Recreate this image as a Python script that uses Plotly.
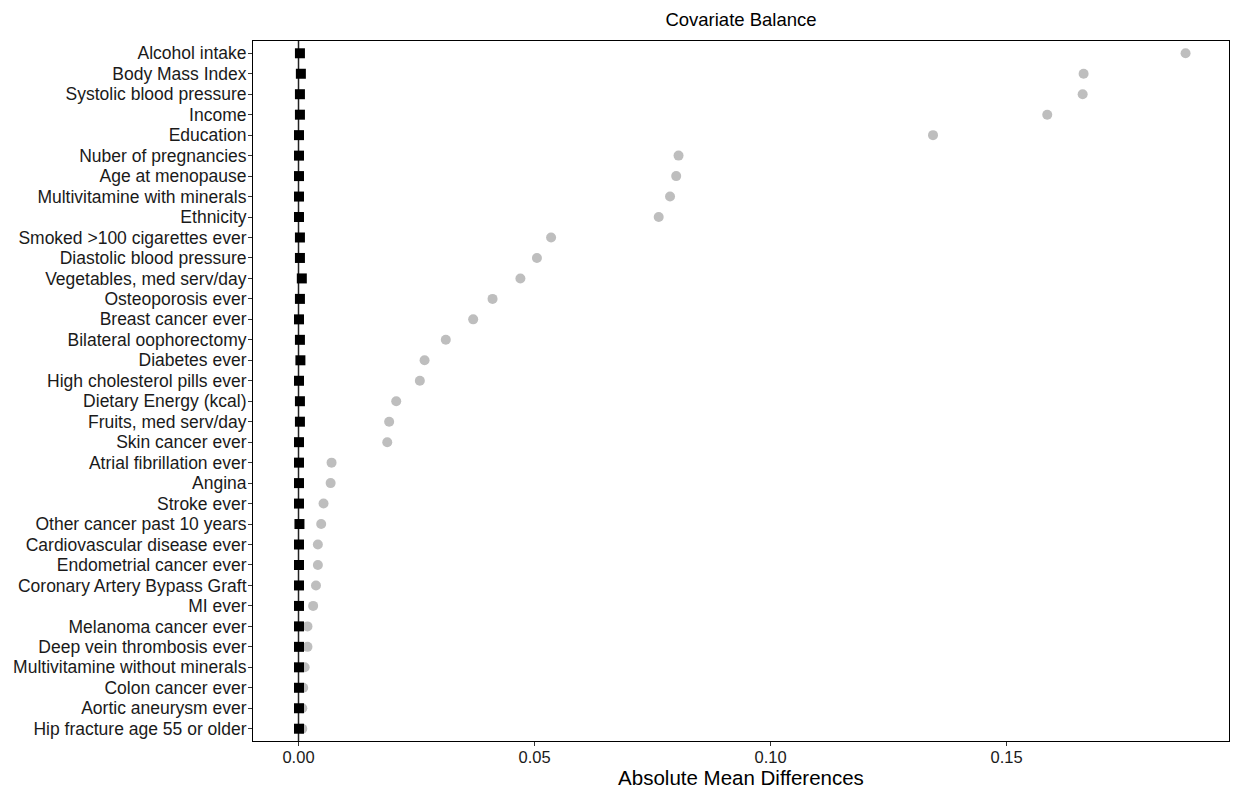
import plotly.graph_objects as go

covariates = [
    "Alcohol intake", "Body Mass Index", "Systolic blood pressure", "Income",
    "Education", "Nuber of pregnancies", "Age at menopause",
    "Multivitamine with minerals", "Ethnicity", "Smoked >100 cigarettes ever",
    "Diastolic blood pressure", "Vegetables, med serv/day", "Osteoporosis ever",
    "Breast cancer ever", "Bilateral oophorectomy", "Diabetes ever",
    "High cholesterol pills ever", "Dietary Energy (kcal)", "Fruits, med serv/day",
    "Skin cancer ever", "Atrial fibrillation ever", "Angina", "Stroke ever",
    "Other cancer past 10 years", "Cardiovascular disease ever",
    "Endometrial cancer ever", "Coronary Artery Bypass Graft", "MI ever",
    "Melanoma cancer ever", "Deep vein thrombosis ever",
    "Multivitamine without minerals", "Colon cancer ever", "Aortic aneurysm ever",
    "Hip fracture age 55 or older",
]

unadjusted = [
    0.1879, 0.1663, 0.1661, 0.1586, 0.1344, 0.0805, 0.0800, 0.0787, 0.0763,
    0.0535, 0.0505, 0.0470, 0.0411, 0.0370, 0.0312, 0.0267, 0.0257, 0.0207,
    0.0192, 0.0188, 0.0070, 0.0068, 0.0053, 0.0048, 0.0041, 0.0041, 0.0037,
    0.0031, 0.0019, 0.0019, 0.0013, 0.0010, 0.0008, 0.0008,
]

adjusted = [
    0.0003, 0.0005, 0.0003, 0.0003, 0.0001, 0.0001, 0.0001, 0.0001, 0.0001,
    0.0003, 0.0003, 0.0007, 0.0003, 0.0001, 0.0003, 0.0004, 0.0001, 0.0003,
    0.0003, 0.0001, 0.0001, 0.0001, 0.0001, 0.0002, 0.0001, 0.0001, 0.0001,
    0.0001, 0.0001, 0.0001, 0.0001, 0.0001, 0.0001, 0.0001,
]

x_ticks = [0.00, 0.05, 0.10, 0.15]
x_tick_labels = ["0.00", "0.05", "0.10", "0.15"]

FONT = "Liberation Sans, Arial, sans-serif"

fig = go.Figure()
fig.add_trace(go.Scatter(
    x=unadjusted, y=covariates, mode="markers", name="Unadjusted",
    marker=dict(symbol="circle", size=10, color="#BEBEBE", line=dict(width=0)),
    showlegend=False, cliponaxis=False,
))
fig.add_trace(go.Scatter(
    x=adjusted, y=covariates, mode="markers", name="Adjusted",
    marker=dict(symbol="square", size=10, color="black", line=dict(width=0)),
    showlegend=False, cliponaxis=False,
))

fig.add_shape(type="line", x0=0, x1=0, y0=0, y1=1, xref="x", yref="paper",
              line=dict(color="#222222", width=1.5), layer="below")

n = len(covariates)
fig.update_layout(
    width=1233, height=790,
    margin=dict(l=253, r=4, t=41, b=49),
    paper_bgcolor="white", plot_bgcolor="white",
    font=dict(family=FONT, color="black", size=17),
    title=dict(text="Covariate Balance", x=(253 + 1229) / 2 / 1233, xanchor="center",
               y=1 - 20 / 790, yanchor="middle",
               font=dict(size=18.5, family=FONT, color="black")),
    xaxis=dict(
        range=[-0.00964, 0.1971], tickmode="array", tickvals=x_ticks,
        ticktext=x_tick_labels,
        showgrid=False, zeroline=False, showline=True, mirror=True,
        linecolor="black", linewidth=1,
        ticks="outside", ticklen=4, tickwidth=1, tickcolor="#333333",
        tickfont=dict(size=16.5, color="#1a1a1a"), ticklabelstandoff=-3,
        title=dict(text="Absolute Mean Differences", font=dict(size=20.5), standoff=0),
    ),
    yaxis=dict(
        type="category", categoryorder="array", categoryarray=covariates,
        tickmode="array", tickvals=covariates, ticktext=covariates,
        range=[n - 0.4, -0.6],
        showgrid=False, zeroline=False, showline=True, mirror=True,
        linecolor="black", linewidth=1,
        ticks="outside", ticklen=4, tickwidth=1, tickcolor="#333333",
        tickfont=dict(size=17.5, color="#1a1a1a"), ticklabelstandoff=-2,
    ),
)

fig.write_html(
    "out.html",
    config={"displayModeBar": False},
    post_script="document.body.style.margin='0';document.body.style.padding='0';"
                "document.body.style.overflow='hidden';",
)
